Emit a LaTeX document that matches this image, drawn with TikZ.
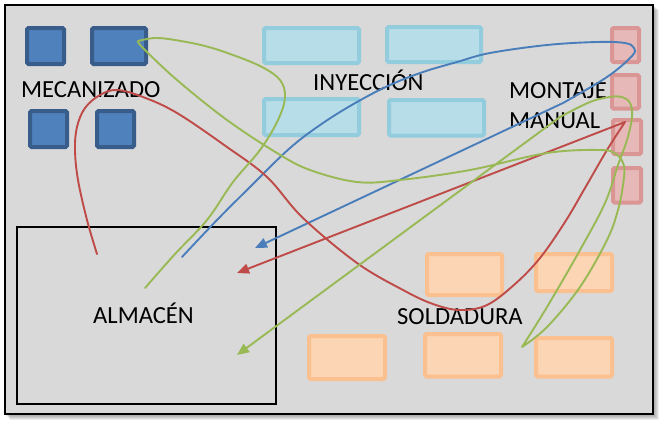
\documentclass[tikz,border=0pt]{standalone}
\usepackage{fontspec}
\setmainfont{Carlito}
\usetikzlibrary{arrows.meta}
\definecolor{bgc}{HTML}{D9D9D9}
\definecolor{mfill}{HTML}{4F81BD}
\definecolor{mline}{HTML}{385D8A}
\definecolor{ifill}{HTML}{B7DEE8}
\definecolor{iline}{HTML}{93CDDD}
\definecolor{rfill}{HTML}{E6B9B8}
\definecolor{rline}{HTML}{D99694}
\definecolor{sfill}{HTML}{FCD5B5}
\definecolor{sline}{HTML}{FAC090}
\definecolor{bluec}{HTML}{4A7EBB}
\definecolor{redc}{HTML}{BE4B48}
\definecolor{greenc}{HTML}{98B954}
\begin{document}
\begin{tikzpicture}[x=1pt,y=-1pt,
  mbox/.style={draw=mline,fill=mfill,line width=4pt,rounded corners=1.5pt},
  ibox/.style={draw=iline,fill=ifill,line width=4pt,rounded corners=1.5pt},
  rbox/.style={draw=rline,fill=rfill,line width=4pt,rounded corners=1.5pt},
  sbox/.style={draw=sline,fill=sfill,line width=4pt,rounded corners=1.5pt},
  flow/.style={line width=1.9pt,line join=round,line cap=round},
  tipA/.style={-{Triangle[length=12pt,width=10pt]}},
  lbl/.style={anchor=base west,inner sep=0pt,font=\fontsize{24.6}{30}\selectfont}]
\useasboundingbox (0,0) rectangle (668,429);
% shadow
\foreach \i in {1,...,5}{
  \fill[black,opacity=0.07] (5+\i,5+\i) rectangle (654+\i,415+\i);
}
% frame
\draw[fill=bgc,line width=2pt] (5.3,5.3) rectangle (653.3,414.3);
% almacen
\draw[line width=1.7pt] (17,227) rectangle (276,403.7);
% mecanizado
\draw[mbox] (27,28) rectangle (64,64);
\draw[mbox] (92,28) rectangle (146,64);
\draw[mbox] (30,111) rectangle (67,147);
\draw[mbox] (97,111) rectangle (134,147);
% inyeccion
\draw[ibox] (264,28) rectangle (359,63);
\draw[ibox] (387,27) rectangle (481,62);
\draw[ibox] (264,99) rectangle (359,135);
\draw[ibox] (389,100) rectangle (484,135.5);
% montaje
\draw[rbox] (612,28) rectangle (639,62);
\draw[rbox] (612,75) rectangle (639,108.5);
\draw[rbox] (613,120) rectangle (641,154);
\draw[rbox] (613,168) rectangle (641,202.5);
% soldadura
\draw[sbox] (427,254) rectangle (502,295);
\draw[sbox] (536,254) rectangle (612,291);
\draw[sbox] (309,336) rectangle (385,379);
\draw[sbox] (425,334) rectangle (501,376.5);
\draw[sbox] (536,338) rectangle (612,376.5);
% labels
\node[lbl] (lmec) at (21,97) {MECANIZADO};
\node[lbl] (liny) at (313,90) {INYECCIÓN};
\node[lbl] (lmon1) at (509,98) {MONTAJE};
\node[lbl] (lmon2) at (509,128) {MANUAL};
\node[lbl] (lalm) at (93,323) {ALMACÉN};
\node[lbl] (lsol) at (397,324) {SOLDADURA};
% flow endpoints
\coordinate (bS) at (182,257);
\coordinate (bE) at (255,248);
\coordinate (rS) at (97,254);
\coordinate (rE) at (237,273);
\coordinate (gS) at (145,288);
\coordinate (gE) at (237,355);
% blue
\draw[flow,bluec,tipA] plot[smooth,tension=0.6] coordinates {(bS) (217,220) (250,187) (290,148) (323,123) (357,102) (390,85) (423,72) (457,62) (490,53) (547,45) (597,42) (625,43) (634,48) (632,56) (607,77) (563,103)} -- (bE);
% red
\draw[flow,redc,tipA] plot[smooth,tension=0.6] coordinates {(rS) (87,220) (78,180) (75,150) (77,127) (85,108) (100,95) (117,90) (143,97) (177,113) (227,147) (267,177) (303,218) (357,263) (403,290) (433,304) (460,310) (487,305) (515,284) (540,258) (565,222) (585,188) (607,150) (625,122)} -- (rE);
% green
\draw[flow,greenc,tipA] plot[smooth,tension=0.6] coordinates {(gS) (175,254) (207,220) (233,182) (260,150) (278,120) (285,97) (280,80) (262,67) (233,55) (205,46) (175,40) (155,38) (138,41)}
 -- plot[smooth,tension=0.6] coordinates {(138,41) (143,48) (177,80) (227,120) (277,153) (310,170) (357,182) (400,180) (470,170) (547,153) (600,150) (616,154) (624,166) (623,185) (618,210) (607,240) (580,287) (547,327) (522,347)}
 -- plot[smooth,tension=0.6] coordinates {(522,347) (547,307) (580,250) (605,203) (618,165) (627,140) (632,117) (630,103) (622,97) (610,97) (590,102) (560,117)} -- (gE);
\end{tikzpicture}
\end{document}
